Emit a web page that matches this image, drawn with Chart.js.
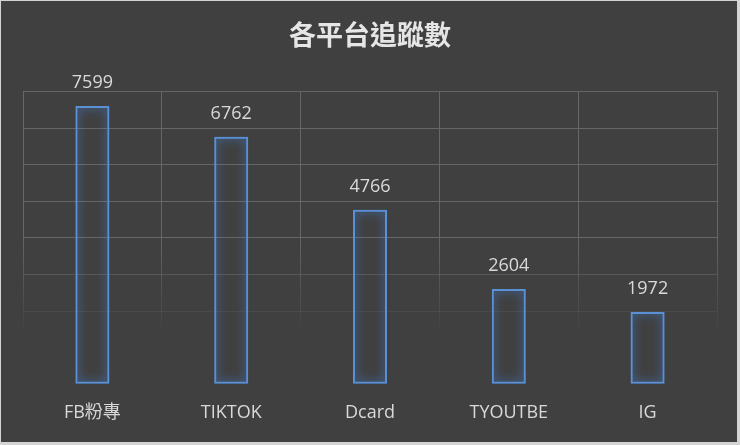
<!DOCTYPE html>
<html>
<head>
<meta charset="utf-8">
<script src="https://cdn.jsdelivr.net/npm/chart.js@4"></script>
<style>
  html, body { margin: 0; padding: 0; background: #d4d4d4; }
  #wrap { position: absolute; left: 1px; top: 1px; width: 736px; height: 441px; background: #404040; }
</style>
</head>
<body>
<div id="wrap"><canvas id="chart" width="736" height="441"></canvas></div>
<script>
// 資料
const platforms = ['FB粉專', 'TIKTOK', 'Dcard', 'TYOUTBE', 'IG'];
const followers = [7599, 6762, 4766, 2604, 1972];
const yMax = 8000;
const yStep = 1000;

const fontFamily = "'Open Sans', 'Noto Sans CJK TC', sans-serif";

// 格線由上往下漸漸淡出
function gridFade(context) {
  const chart = context.chart;
  const area = chart.chartArea;
  if (!area) return 'rgba(100,100,100,1)';
  const g = chart.ctx.createLinearGradient(0, area.top, 0, area.bottom);
  g.addColorStop(0, 'rgba(102,102,102,1)');
  g.addColorStop(0.5, 'rgba(102,102,102,1)');
  g.addColorStop(0.84, 'rgba(102,102,102,0)');
  g.addColorStop(1, 'rgba(102,102,102,0)');
  return g;
}

// 柱子外框發光
const glowPlugin = {
  id: 'glow',
  beforeDatasetsDraw(chart) {
    const ctx = chart.ctx;
    ctx.save();
    ctx.shadowColor = 'rgba(70,145,255,1)';
    ctx.shadowBlur = 10;
  },
  afterDatasetsDraw(chart) {
    chart.ctx.restore();
  }
};

// 柱子上方數值
const valueLabels = {
  id: 'valueLabels',
  afterDatasetsDraw(chart) {
    const ctx = chart.ctx;
    const meta = chart.getDatasetMeta(0);
    ctx.save();
    ctx.font = '18px ' + fontFamily;
    ctx.fillStyle = '#d9d9d9';
    ctx.textAlign = 'center';
    ctx.textBaseline = 'bottom';
    meta.data.forEach((bar, i) => {
      ctx.fillText(String(followers[i]), bar.x, bar.y - 14);
    });
    ctx.restore();
  }
};

new Chart(document.getElementById('chart'), {
  type: 'bar',
  data: {
    labels: platforms,
    datasets: [{
      data: followers,
      backgroundColor: 'rgba(0,0,0,0)',
      borderColor: '#5a90d6',
      borderWidth: 2,
      borderSkipped: false,
      barPercentage: 0.49,
      categoryPercentage: 0.5
    }]
  },
  options: {
    responsive: false,
    animation: false,
    layout: { padding: { left: 22, right: 20, top: 0, bottom: 0 } },
    plugins: {
      legend: { display: false },
      tooltip: { enabled: false },
      title: {
        display: true,
        text: '各平台追蹤數',
        color: '#e6e6e6',
        font: { family: "'Noto Sans CJK TC', sans-serif", size: 27, weight: 'bold' },
        padding: { top: 18, bottom: 40 }
      }
    },
    scales: {
      x: {
        grid: { color: gridFade, lineWidth: 1, drawTicks: false, offset: true },
        border: { display: false },
        ticks: {
          color: '#d9d9d9',
          padding: 19,
          font: { family: fontFamily, size: 18, lineHeight: 1.1 }
        }
      },
      y: {
        min: 0,
        max: yMax,
        ticks: { display: false, stepSize: yStep },
        grid: { color: gridFade, lineWidth: 1, drawTicks: false },
        border: { display: false }
      }
    }
  },
  plugins: [glowPlugin, valueLabels]
});
</script>
</body>
</html>
